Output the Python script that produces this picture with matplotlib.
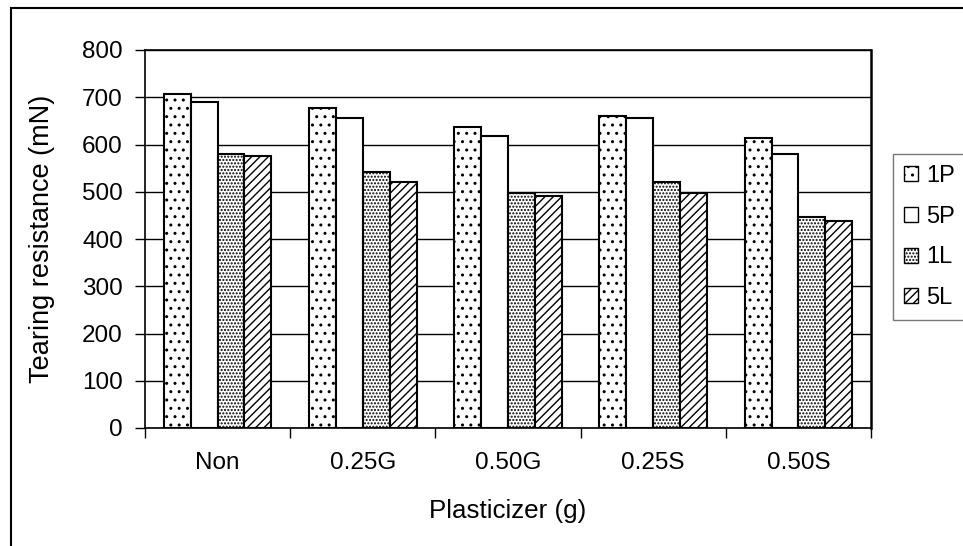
import matplotlib.pyplot as plt
import matplotlib.patches as mpatches
import numpy as np

plt.rcParams['font.family'] = ['Liberation Sans', 'DejaVu Sans']
plt.rcParams['hatch.linewidth'] = 1.0

# tearing resistance (mN) per plasticizer, four film types
plastificante = ['Non', '0.25G', '0.50G', '0.25S', '0.50S']
series = ['1P', '5P', '1L', '5L']
v_1P = [707, 677, 638, 660, 614]
v_5P = [690, 656, 618, 656, 580]
v_1L = [580, 541, 498, 520, 447]
v_5L = [576, 520, 490, 497, 438]
valores = [v_1P, v_5P, v_1L, v_5L]
tramas = ['..', '', '.....', '////']

fig = plt.figure(figsize=(9.63, 5.46), dpi=100)
ax = fig.add_axes([145/963, 118/546, 726/963, 378/546])

x = np.arange(len(plastificante))
ancho = 0.185
for i, (vals, trama, nombre) in enumerate(zip(valores, tramas, series)):
    ax.bar(x + (i - 1.5) * ancho, vals, ancho, color='white', edgecolor='black',
           linewidth=1.5, hatch=trama, label=nombre, zorder=3)

ax.set_ylim(0, 800)
ax.set_xlim(-0.5, len(plastificante) - 0.5)
ax.set_yticks(range(0, 801, 100))
ax.yaxis.grid(True, color='black', linewidth=1.0, zorder=0)
ax.set_axisbelow(True)

ax.set_xticks(x)
ax.set_xticklabels(plastificante)
ax.set_xticks(np.arange(-0.5, len(plastificante)), minor=True)
ax.tick_params(axis='x', which='major', length=0, pad=17, labelsize=17.5)
ax.tick_params(axis='x', which='minor', length=7, width=1, direction='out')
ax.tick_params(axis='y', length=7, width=1, direction='out', pad=9, labelsize=17.5)

for lado in ['left', 'bottom', 'right', 'top']:
    ax.spines[lado].set_color('black')
    ax.spines[lado].set_linewidth(1.2)
ax.spines['right'].set_linewidth(1.8)

ax.set_xlabel('Plasticizer (g)', fontsize=18.7)
ax.set_ylabel('Tearing resistance (mN)', fontsize=19.5)
ax.xaxis.set_label_coords(0.5, -0.187)
ax.yaxis.set_label_coords(-0.124, 0.5)

leg = ax.legend(loc='upper left', bbox_to_anchor=(893/963, (546-154)/546),
                bbox_transform=fig.transFigure, frameon=True, fancybox=False,
                fontsize=17, handlelength=0.6, handleheight=0.6,
                handletextpad=0.35, labelspacing=0.8, borderpad=0.45,
                borderaxespad=0)
leg.get_frame().set_edgecolor('#555555')
leg.get_frame().set_linewidth(1.0)
for h in leg.legend_handles:
    h.set_linewidth(1.0)

# chart border
fig.add_artist(mpatches.Rectangle((11/963, -0.1), 1.2, 0.1 + (546-8)/546,
                                  transform=fig.transFigure, fill=False,
                                  edgecolor='black', linewidth=1.5))

fig.savefig('out.png', dpi=100)
